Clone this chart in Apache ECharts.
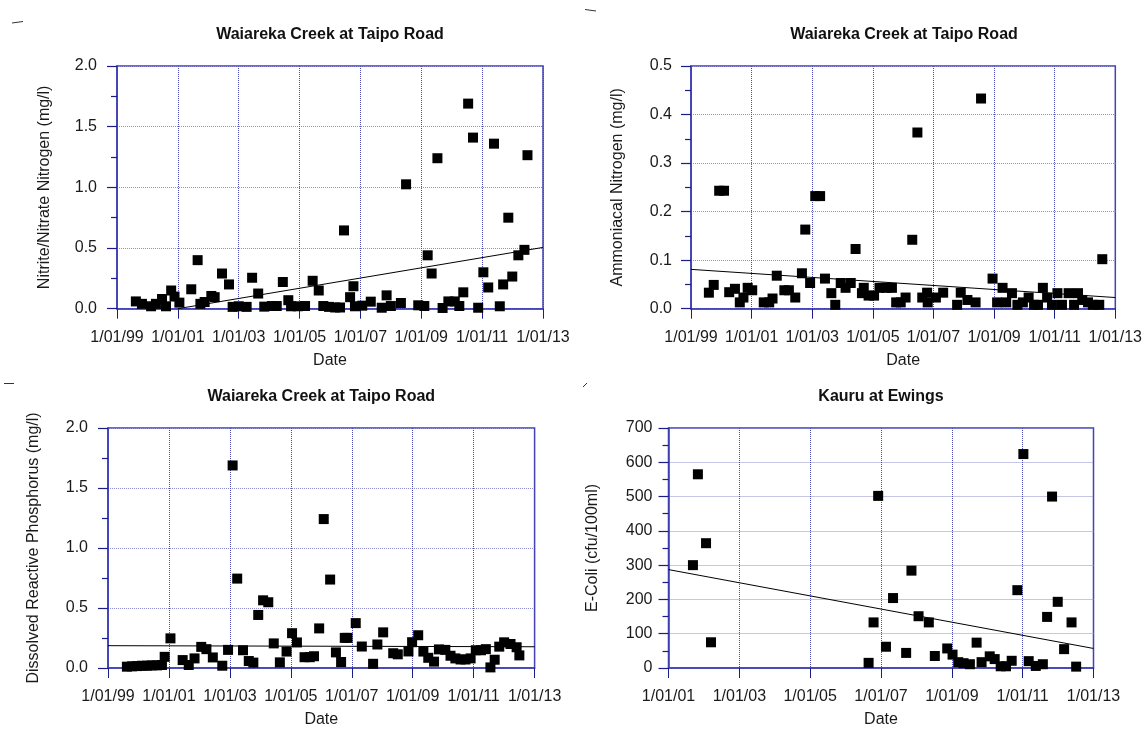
<!DOCTYPE html>
<html>
<head>
<meta charset="utf-8">
<script src="https://cdn.jsdelivr.net/npm/echarts@6/dist/echarts.min.js"></script>
<style>html,body{margin:0;padding:0;background:#fff}#c{width:1145px;height:729px}</style>
</head>
<body>
<div id="c"></div>
<script>
// ---- Panel 1: Nitrite/Nitrate Nitrogen (decimal year, mg/l)
const no3Dates = [1999.62,1999.82,2000.12,2000.28,2000.48,2000.61,2000.78,2000.89,2001.05,2001.44,2001.65,2001.74,2001.88,2002.10,2002.21,2002.45,2002.68,2002.80,2003.00,2003.26,2003.44,2003.64,2003.84,2004.09,2004.25,2004.45,2004.63,2004.72,2004.94,2005.18,2005.43,2005.63,2005.78,2005.97,2006.17,2006.33,2006.46,2006.66,2006.77,2006.82,2007.06,2007.34,2007.70,2007.86,2008.00,2008.33,2008.50,2008.90,2009.10,2009.21,2009.34,2009.53,2009.70,2009.89,2010.10,2010.25,2010.38,2010.54,2010.70,2010.87,2011.04,2011.20,2011.39,2011.58,2011.69,2011.86,2011.99,2012.19,2012.39,2012.49];
const no3Values = [0.06,0.04,0.02,0.04,0.08,0.02,0.15,0.10,0.05,0.16,0.40,0.04,0.055,0.105,0.095,0.29,0.20,0.015,0.02,0.015,0.255,0.125,0.017,0.022,0.022,0.22,0.07,0.02,0.02,0.022,0.23,0.15,0.022,0.015,0.01,0.01,0.645,0.095,0.185,0.02,0.025,0.058,0.008,0.11,0.022,0.047,1.025,0.028,0.022,0.44,0.29,1.24,0.006,0.06,0.06,0.022,0.135,1.69,1.41,0.008,0.30,0.175,1.36,0.02,0.20,0.75,0.265,0.44,0.485,1.265];
const no3Trend = [[2001.0, 0.0], [2013.0, 0.505]];

// ---- Panel 2: Ammoniacal Nitrogen
const nh4Dates = [1999.59,1999.75,1999.93,2000.09,2000.26,2000.45,2000.61,2000.73,2000.87,2001.02,2001.40,2001.58,2001.69,2001.83,2002.08,2002.23,2002.44,2002.66,2002.77,2002.93,2003.10,2003.26,2003.42,2003.63,2003.76,2003.94,2004.10,2004.27,2004.43,2004.64,2004.70,2004.86,2005.04,2005.22,2005.44,2005.63,2005.77,2005.92,2006.08,2006.30,2006.47,2006.63,2006.79,2006.81,2007.08,2007.32,2007.78,2007.90,2008.12,2008.39,2008.57,2008.95,2009.10,2009.28,2009.40,2009.59,2009.77,2009.95,2010.14,2010.32,2010.45,2010.61,2010.75,2010.91,2011.09,2011.24,2011.46,2011.64,2011.77,2011.91,2012.10,2012.26,2012.47,2012.57];
const nh4Values = [0.033,0.049,0.243,0.243,0.034,0.041,0.013,0.023,0.043,0.038,0.013,0.013,0.021,0.068,0.038,0.038,0.023,0.073,0.163,0.053,0.232,0.232,0.062,0.032,0.008,0.053,0.043,0.053,0.123,0.032,0.043,0.027,0.027,0.043,0.043,0.043,0.013,0.013,0.023,0.142,0.363,0.023,0.033,0.013,0.023,0.033,0.008,0.033,0.018,0.013,0.433,0.062,0.013,0.043,0.013,0.032,0.008,0.013,0.023,0.008,0.008,0.043,0.023,0.008,0.032,0.008,0.032,0.008,0.032,0.018,0.013,0.008,0.008,0.102];
const nh4Trend = [[1999.0, 0.081], [2013.0, 0.023]];

// ---- Panel 3: Dissolved Reactive Phosphorus
const drpDates = [1999.62,1999.79,1999.95,2000.12,2000.28,2000.44,2000.61,2000.77,2000.86,2001.05,2001.45,2001.65,2001.84,2002.06,2002.23,2002.44,2002.75,2002.94,2003.09,2003.24,2003.43,2003.62,2003.77,2003.93,2004.09,2004.26,2004.44,2004.64,2004.86,2005.04,2005.20,2005.45,2005.62,2005.76,2005.93,2006.08,2006.29,2006.48,2006.65,2006.77,2006.86,2007.13,2007.33,2007.70,2007.84,2008.03,2008.36,2008.51,2008.86,2008.98,2009.18,2009.35,2009.51,2009.70,2009.86,2010.07,2010.24,2010.40,2010.57,2010.73,2010.90,2011.07,2011.24,2011.40,2011.55,2011.69,2011.84,2012.00,2012.21,2012.41,2012.50];
const drpValues = [0.011,0.014,0.016,0.019,0.019,0.022,0.022,0.025,0.093,0.247,0.066,0.025,0.080,0.176,0.157,0.088,0.019,0.151,1.688,0.745,0.148,0.058,0.045,0.442,0.564,0.548,0.205,0.047,0.137,0.29,0.213,0.09,0.09,0.098,0.33,1.241,0.737,0.130,0.050,0.251,0.251,0.374,0.179,0.035,0.196,0.297,0.123,0.114,0.138,0.215,0.273,0.137,0.085,0.053,0.155,0.151,0.102,0.080,0.071,0.071,0.080,0.148,0.148,0.157,0.005,0.069,0.178,0.214,0.200,0.173,0.105];
const drpTrend = [[1999.0, 0.186], [2013.0, 0.177]];

// ---- Panel 4: E-Coli (cfu/100ml)
const ecoliDates = [2001.69,2001.83,2002.06,2002.20,2006.65,2006.79,2006.92,2007.14,2007.34,2007.71,2007.86,2008.06,2008.35,2008.52,2008.87,2009.02,2009.18,2009.33,2009.51,2009.70,2009.84,2010.07,2010.21,2010.38,2010.53,2010.69,2010.85,2011.02,2011.17,2011.37,2011.57,2011.69,2011.83,2011.99,2012.17,2012.38,2012.51];
const ecoliValues = [300,565,364,75,15,133,502,62,204,44,284,151,133,35,57,39,17,14,11,74,17,34,26,5,5,21,227,624,20,6,11,149,500,193,55,133,4];
const ecoliTrend = [[2001.0, 287], [2013.0, 57]];

const titles = ['Waiareka Creek at Taipo Road','Waiareka Creek at Taipo Road','Waiareka Creek at Taipo Road','Kauru at Ewings'];
const yNames = ['Nitrite/Nitrate Nitrogen (mg/l)','Ammoniacal Nitrogen (mg/l)','Dissolved Reactive Phosphorus (mg/l)','E-Coli (cfu/100ml)'];
const xName = 'Date';

const FONT = 'Liberation Sans, Arial, Helvetica, sans-serif';
const grids = [
  {left:117, top:66, width:426, height:242.7},
  {left:691, top:66, width:426, height:242.7},
  {left:108, top:428, width:426.6, height:242.7},
  {left:668.5, top:428, width:425, height:242.7}
];
const xRanges = [[1999,2013],[1999,2013],[1999,2013],[2001,2013]];
const yRanges = [[0,2,0.5,1],[0,0.5,0.1,1],[0,2,0.5,1],[0,700,100,0]];
const yNameGaps = [64,65,66,68];
const yLabelMargins = [20,19,20,16];
const series = [[no3Dates,no3Values,no3Trend],[nh4Dates,nh4Values,nh4Trend],[drpDates,drpValues,drpTrend],[ecoliDates,ecoliValues,ecoliTrend]];

const AXIS = '#3d3db3';
const TICK = '#1c1c86';
const TXT = '#1a1a1a';

const option = {
  backgroundColor:'#ffffff',
  animation:false,
  title: titles.map((t,i)=>({
    text:t, left: grids[i].left + grids[i].width/2, top: grids[i].top - 39,
    textAlign:'center', padding:0,
    textStyle:{fontFamily:FONT, fontSize:16, fontWeight:'bold', color:'#111'}
  })),
  grid: grids.map(g=>Object.assign({show:true, borderColor:AXIS, borderWidth:1.5, backgroundColor:'transparent', containLabel:false}, g)),
  xAxis: grids.map((g,i)=>({
    type:'value', gridIndex:i, min:xRanges[i][0], max:xRanges[i][1], interval:2,
    name:xName, nameLocation:'middle', nameGap:44,
    nameTextStyle:{fontFamily:FONT, fontSize:16, color:TXT},
    axisLine:{show:true, lineStyle:{color:AXIS, width:1.5}},
    axisTick:{show:true, length:10, lineStyle:{color:TICK, width:1}},
    axisLabel:{margin:21, fontFamily:FONT, fontSize:16, color:TXT, showMinLabel:true, showMaxLabel:true,
      formatter:v=>'1/01/'+String(Math.round(v)%100).padStart(2,'0')},
    splitLine:{show:true, lineStyle:{color:'#4a4abb', width:1, type:[1,1]}}
  })),
  yAxis: grids.map((g,i)=>({
    type:'value', gridIndex:i, min:yRanges[i][0], max:yRanges[i][1], interval:yRanges[i][2],
    name:yNames[i], nameLocation:'middle', nameGap:yNameGaps[i], nameRotate:90,
    nameTextStyle:{fontFamily:FONT, fontSize:16, color:TXT},
    axisLine:{show:true, lineStyle:{color:AXIS, width:1.5}},
    axisTick:{show:true, length:10, lineStyle:{color:TICK, width:1.2}},
    minorTick:{show:true, splitNumber:2, length:6, lineStyle:{color:TICK, width:1.2}},
    axisLabel:{margin:yLabelMargins[i], fontFamily:FONT, fontSize:16, color:TXT,
      formatter:v=>v.toFixed(yRanges[i][3])},
    splitLine:{show:true, lineStyle:{color:'#8d8dd2', width:1, type:[1,1]}}
  })),
  series: []
};

series.forEach((s,i)=>{
  option.series.push({
    type:'scatter', xAxisIndex:i, yAxisIndex:i, symbol:'rect', symbolSize:10,
    itemStyle:{color:'#000', opacity:1}, data:s[0].map((d,k)=>[d,s[1][k]]), z:3, silent:true
  });
  option.series.push({
    type:'line', xAxisIndex:i, yAxisIndex:i, symbol:'none', data:s[2],
    lineStyle:{color:'#000', width:1}, z:4, silent:true
  });
});

// small stray marks in the top-left corner of each panel
option.graphic = [
  {type:'line', shape:{x1:12,y1:23,x2:23,y2:21.5}, style:{stroke:'#333', lineWidth:1}},
  {type:'line', shape:{x1:585,y1:9.5,x2:596,y2:11}, style:{stroke:'#333', lineWidth:1}},
  {type:'line', shape:{x1:4,y1:383.5,x2:14,y2:383.5}, style:{stroke:'#333', lineWidth:1}},
  {type:'line', shape:{x1:583,y1:387,x2:587,y2:383}, style:{stroke:'#333', lineWidth:1}}
];

const chart = echarts.init(document.getElementById('c'), null, {renderer:'canvas'});
chart.setOption(option);
</script>
</body>
</html>
